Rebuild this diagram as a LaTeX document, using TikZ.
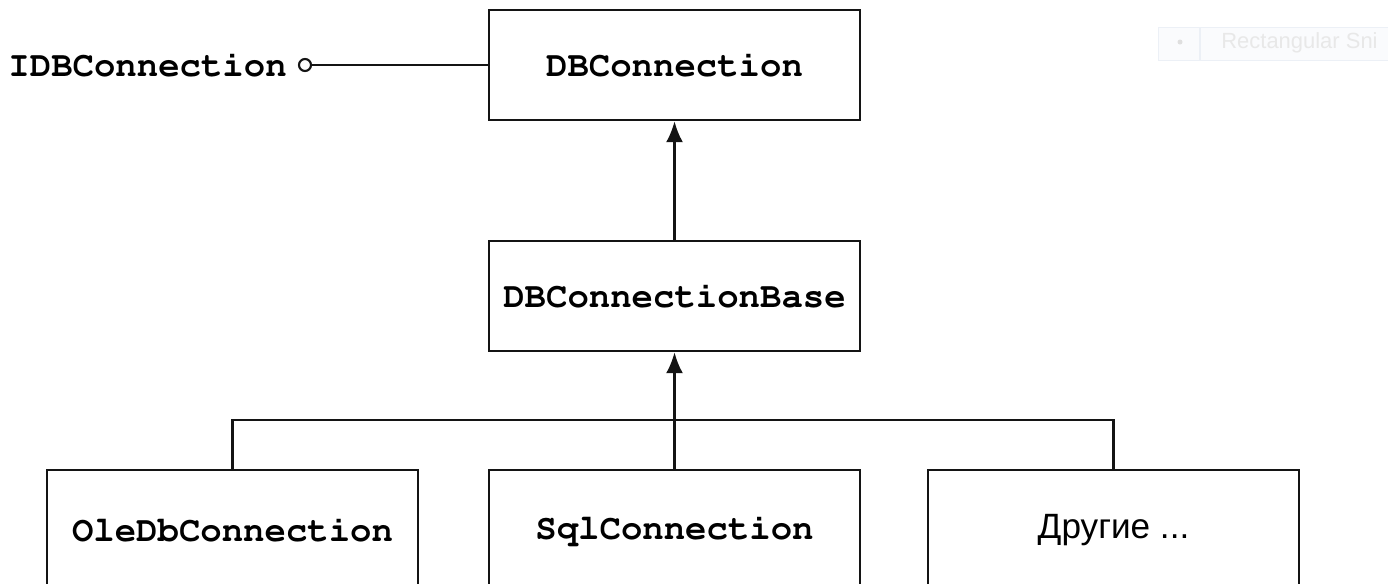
\documentclass[tikz,border=0pt]{standalone}
\usepackage[T1,TU]{fontenc}
\usepackage{fontspec}
\setsansfont{Liberation Sans}
\usepackage{xcolor}
\definecolor{Col1}{RGB}{20,20,20}
\definecolor{Col2}{RGB}{236,240,246}
\definecolor{Col3}{RGB}{250,251,253}
\usetikzlibrary{arrows.meta}
\newcommand{\CodeFont}{\fontencoding{T1}\fontfamily{pcr}\fontseries{b}\fontsize{20.3}{24}\selectfont}
\tikzstyle{Class}=[draw=Col1,line width=1.4pt,minimum width=7.42cm,
minimum height=2.2cm,inner sep=0pt,font=\CodeFont]
\tikzstyle{Sub}=[Class,minimum height=2.4cm]
\tikzstyle{Edge}=[draw=Col1,line width=1.4pt]
\tikzstyle{Inherit}=[Edge,-{Latex[length=0.42cm,width=0.34cm]}]
\tikzstyle{Lolly}=[circle,draw=Col1,line width=1.2pt,minimum size=0.24cm,inner sep=0pt]

\begin{document}
\begin{tikzpicture}[x=0.02cm,y=-0.02cm]
        \useasboundingbox (0,0) rectangle (1388,583);
        \clip (0,0) rectangle (1388,583);
        \fill[white] (0,0) rectangle (1388,583);
        % snipping tool overlay
        \node[draw=Col2,fill=Col3,line width=0.8pt,anchor=north west,
            minimum width=5cm,minimum height=0.66cm,inner sep=0pt](snip)at(1158,27){};
        \draw[Col2,line width=0.8pt](1200,27)--(1200,60);
        \node[circle,fill=gray!25,inner sep=0pt,minimum size=0.1cm](dot)at(1180,42){};
        \node[anchor=west,text=gray!18,font=\sffamily\fontsize{12.5}{15}\selectfont,
            inner sep=0pt](sniptext)at(1221,43){Rectangular Sni};
        % classes
        \node[Class](conn)at(674.5,65){\raisebox{-3pt}{DBConnection}};
        \node[Class](base)at(674.5,296){DBConnectionBase};
        \node[Sub](ole)at(232.5,530){OleDbConnection};
        \node[Sub](sql)at(674.5,530){SqlConnection};
        \node[Sub,font=\sffamily\fontsize{20}{24}\selectfont](other)at(1113.5,530){Другие ...};
        % interface
        \node[Lolly](lolly)at(305,65){};
        \node[anchor=east,inner sep=0pt,font=\CodeFont](iface)at(287,65){IDBConnection};
        \draw[Edge](lolly)--(conn.west);
        % inheritance
        \draw[Inherit](base.north)--(conn.south);
        \draw[Inherit](sql.north)--(base.south);
        \coordinate(busL)at(232.5,420);
        \coordinate(busR)at(1113.5,420);
        \draw[Edge](ole.north)--(busL)--(busR)--(other.north);
    \end{tikzpicture}
\end{document}
